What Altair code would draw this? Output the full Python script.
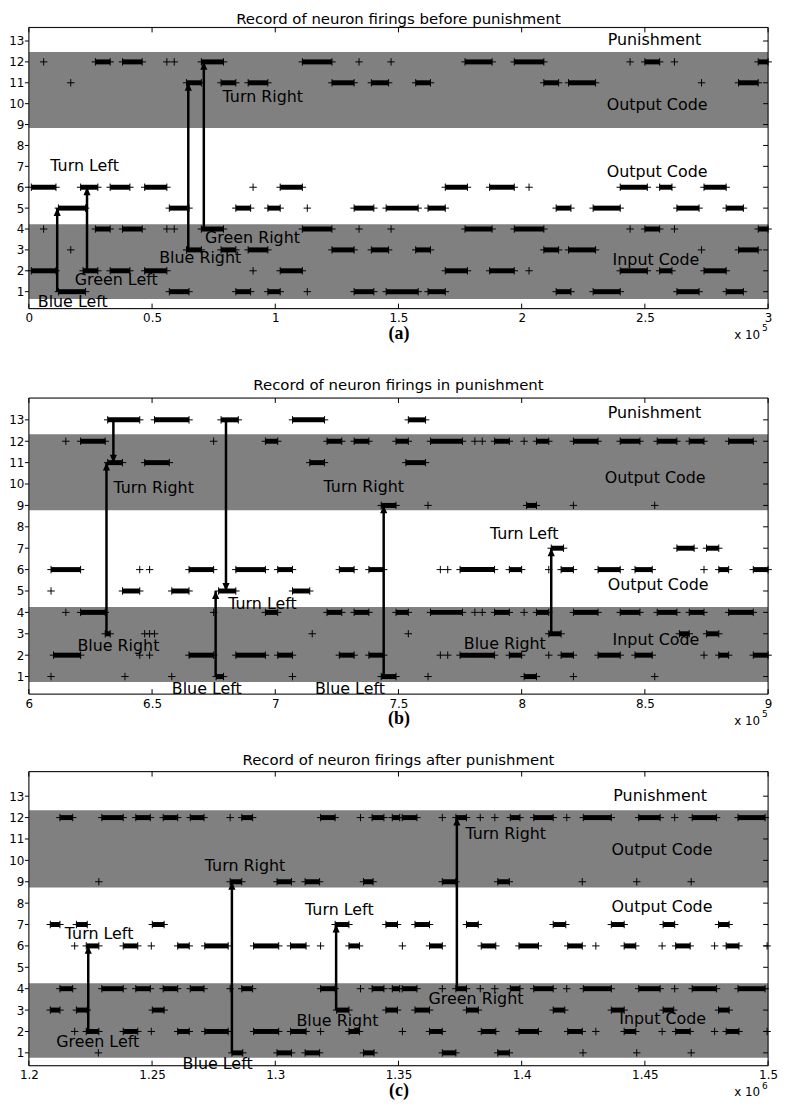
import altair as alt
import pandas as pd

FONT = "DejaVu Sans"
W = 744
H_A, H_B, H_C = 283, 298, 296
BAND_COLOR = "#808080"
PLUS = "M-1,0L1,0M0,-1L0,1"
HEAD_UP = "M0,0L-0.45,1L0.45,1Z"
HEAD_DOWN = "M0,0L-0.45,-1L0.45,-1Z"
Y_TICKS = list(range(1, 14))

# ---------------- Panel (a): before punishment (x in units of 1e5) ----------------
A_TITLE = "Record of neuron firings before punishment"
A_X_DOMAIN = [0, 3]
A_Y_DOMAIN = [0.19, 13.65]
A_X_TICKS = [0, 0.5, 1, 1.5, 2, 2.5, 3]
A_BANDS = [(0.65, 4.23), (8.84, 12.47)]
A_CLUSTERS = {
    12: [(0.27, 0.33), (0.38, 0.46), (0.70, 0.79), (1.11, 1.23), (1.77, 1.88), (1.97, 2.09), (2.50, 2.56), (2.96, 3.00)],
    11: [(0.64, 0.70), (0.78, 0.84), (0.89, 0.97), (1.23, 1.32), (1.39, 1.46), (1.57, 1.63), (2.09, 2.15), (2.19, 2.30), (2.88, 2.96)],
    6: [(0.01, 0.11), (0.21, 0.28), (0.33, 0.41), (0.47, 0.56), (1.02, 1.11), (1.69, 1.78), (1.87, 1.97), (2.40, 2.51), (2.56, 2.61), (2.74, 2.83)],
    5: [(0.12, 0.23), (0.57, 0.65), (0.84, 0.90), (0.97, 1.02), (1.32, 1.40), (1.45, 1.58), (1.62, 1.69), (2.14, 2.20), (2.29, 2.40), (2.63, 2.72), (2.83, 2.90)],
    4: [(0.27, 0.33), (0.38, 0.46), (0.70, 0.79), (1.11, 1.23), (1.77, 1.88), (1.97, 2.09), (2.50, 2.56), (2.96, 3.00)],
    3: [(0.64, 0.70), (0.78, 0.84), (0.89, 0.97), (1.23, 1.32), (1.39, 1.46), (1.57, 1.63), (2.09, 2.15), (2.19, 2.30), (2.88, 2.96)],
    2: [(0.01, 0.11), (0.22, 0.28), (0.33, 0.41), (0.47, 0.56), (1.02, 1.11), (1.69, 1.78), (1.87, 1.97), (2.40, 2.51), (2.56, 2.61), (2.74, 2.83)],
    1: [(0.12, 0.23), (0.57, 0.65), (0.84, 0.90), (0.97, 1.02), (1.32, 1.40), (1.45, 1.58), (1.62, 1.69), (2.14, 2.20), (2.29, 2.40), (2.63, 2.72), (2.83, 2.90)],
}
A_SPIKES = {
    12: [0.06, 0.56, 0.59, 1.34, 1.47, 2.44, 2.62],
    11: [0.17, 2.73],
    6: [0.91, 2.03],
    5: [1.13],
    4: [0.06, 0.56, 0.59, 1.34, 1.47, 2.44, 2.62],
    3: [0.17, 2.73],
    2: [0.91, 2.03],
    1: [1.13],
}
A_ARROWS = [(0.115, 1, 5), (0.236, 2, 6), (0.647, 3, 11), (0.71, 4, 12)]
A_LABELS = [
    ("Blue Left", 0.036, 0.52), ("Green Left", 0.186, 1.57), ("Blue Right", 0.529, 2.61),
    ("Green Right", 0.715, 3.56), ("Turn Left", 0.087, 7.03), ("Turn Right", 0.786, 10.30),
    ("Punishment", 2.349, 13.06), ("Output Code", 2.345, 9.92), ("Output Code", 2.345, 6.74),
    ("Input Code", 2.369, 2.52),
]

# ---------------- Panel (b): in punishment (x in units of 1e5) ----------------
B_TITLE = "Record of neuron firings in punishment"
B_X_DOMAIN = [6, 9]
B_Y_DOMAIN = [0.18, 14.02]
B_X_TICKS = [6, 6.5, 7, 7.5, 8, 8.5, 9]
B_BANDS = [(0.75, 4.25), (8.77, 12.33)]
B_CLUSTERS = {
    13: [(6.32, 6.45), (6.51, 6.65), (6.78, 6.85), (7.07, 7.20), (7.54, 7.61)],
    12: [(6.21, 6.31), (6.96, 7.01), (7.21, 7.27), (7.32, 7.38), (7.49, 7.54), (7.63, 7.76), (7.89, 7.95), (8.06, 8.11), (8.21, 8.31), (8.40, 8.48), (8.55, 8.63), (8.68, 8.74), (8.84, 8.94)],
    11: [(6.32, 6.38), (6.47, 6.57), (7.14, 7.20), (7.53, 7.61)],
    9: [(7.43, 7.49), (8.02, 8.06)],
    7: [(8.12, 8.17), (8.63, 8.70), (8.75, 8.80)],
    6: [(6.09, 6.21), (6.65, 6.75), (6.84, 6.96), (7.01, 7.07), (7.26, 7.32), (7.38, 7.44), (7.75, 7.89), (7.95, 8.00), (8.16, 8.21), (8.31, 8.40), (8.46, 8.53), (8.80, 8.84), (8.94, 9.00)],
    5: [(6.38, 6.45), (6.58, 6.65), (6.77, 6.84), (7.07, 7.14)],
    4: [(6.21, 6.31), (6.96, 7.01), (7.21, 7.27), (7.32, 7.38), (7.49, 7.54), (7.63, 7.76), (7.89, 7.95), (8.06, 8.11), (8.21, 8.31), (8.40, 8.48), (8.55, 8.63), (8.68, 8.74), (8.84, 8.94)],
    3: [(6.31, 6.33), (8.11, 8.16), (8.64, 8.68), (8.75, 8.80)],
    2: [(6.10, 6.21), (6.65, 6.75), (6.84, 6.96), (7.01, 7.07), (7.26, 7.32), (7.38, 7.44), (7.75, 7.89), (7.95, 8.00), (8.16, 8.21), (8.31, 8.40), (8.46, 8.53), (8.80, 8.84), (8.94, 9.00)],
    1: [(6.76, 6.79), (7.43, 7.49), (8.01, 8.06)],
}
B_SPIKES = {
    12: [6.15, 6.75, 7.81, 7.84, 8.01],
    9: [7.62, 8.21, 8.54],
    6: [6.45, 6.49, 7.67, 7.70, 8.11, 8.74],
    5: [6.09],
    4: [6.15, 6.75, 7.81, 7.84, 8.01],
    3: [6.47, 6.49, 6.51, 7.15, 7.54],
    2: [6.45, 6.49, 7.67, 7.70, 8.11, 8.74],
    1: [6.09, 6.39, 6.58, 7.07, 7.62, 8.21, 8.54],
}
B_ARROWS = [(6.315, 3, 11), (6.343, 13, 11), (6.758, 1, 5), (6.80, 13, 5), (7.44, 1, 9), (8.12, 3, 7)]
B_LABELS = [
    ("Turn Right", 6.343, 9.79), ("Turn Right", 7.196, 9.84), ("Output Code", 8.337, 10.30),
    ("Punishment", 8.349, 13.33), ("Turn Left", 7.871, 7.65), ("Output Code", 8.349, 5.28),
    ("Turn Left", 6.809, 4.40), ("Blue Right", 6.197, 2.44), ("Blue Left", 6.580, 0.40),
    ("Blue Left", 7.161, 0.40), ("Blue Right", 7.765, 2.53), ("Input Code", 8.369, 2.72),
]

# ---------------- Panel (c): after punishment (x in units of 1e6) ----------------
C_TITLE = "Record of neuron firings after punishment"
C_X_DOMAIN = [1.2, 1.5]
C_Y_DOMAIN = [0.40, 14.15]
C_X_TICKS = [1.2, 1.25, 1.3, 1.35, 1.4, 1.45, 1.5]
C_BANDS = [(0.77, 4.25), (8.73, 12.34)]
C_CLUSTERS = {
    12: [(1.2126, 1.2178), (1.2296, 1.2383), (1.2434, 1.2493), (1.2545, 1.2604), (1.2655, 1.2711), (1.2864, 1.2908), (1.3184, 1.3243), (1.3393, 1.3441), (1.3475, 1.3505), (1.3515, 1.3575), (1.3733, 1.3776), (1.3954, 1.3993), (1.4049, 1.4128), (1.4250, 1.4364), (1.4475, 1.4562), (1.4692, 1.4791), (1.4878, 1.4988)],
    9: [(1.2817, 1.2864), (1.3007, 1.3066), (1.3121, 1.3180), (1.3358, 1.3397), (1.3678, 1.3733), (1.3903, 1.3950)],
    7: [(1.2087, 1.2126), (1.2193, 1.2237), (1.2501, 1.2549), (1.3243, 1.3299), (1.3449, 1.3496), (1.3567, 1.3626), (1.3776, 1.3824), (1.4128, 1.4179), (1.4364, 1.4416), (1.4574, 1.4621), (1.4799, 1.4842)],
    6: [(1.2233, 1.2284), (1.2383, 1.2442), (1.2604, 1.2651), (1.2714, 1.2809), (1.2912, 1.3014), (1.3062, 1.3125), (1.3299, 1.3342), (1.3626, 1.3678), (1.3836, 1.3895), (1.3989, 1.4068), (1.4187, 1.4246), (1.4416, 1.4463), (1.4625, 1.4684), (1.4830, 1.4882)],
    4: [(1.2126, 1.2178), (1.2296, 1.2383), (1.2434, 1.2493), (1.2545, 1.2604), (1.2655, 1.2711), (1.2864, 1.2908), (1.3184, 1.3243), (1.3393, 1.3441), (1.3475, 1.3505), (1.3515, 1.3575), (1.3733, 1.3776), (1.3954, 1.3993), (1.4049, 1.4128), (1.4250, 1.4364), (1.4475, 1.4562), (1.4692, 1.4791), (1.4878, 1.4988)],
    3: [(1.2087, 1.2126), (1.2193, 1.2237), (1.2501, 1.2549), (1.3249, 1.3299), (1.3449, 1.3496), (1.3567, 1.3626), (1.3776, 1.3824), (1.4128, 1.4175), (1.4364, 1.4416), (1.4574, 1.4617), (1.4799, 1.4842)],
    2: [(1.2233, 1.2284), (1.2383, 1.2442), (1.2604, 1.2651), (1.2714, 1.2809), (1.2912, 1.3014), (1.3062, 1.3125), (1.3299, 1.3342), (1.3626, 1.3678), (1.3836, 1.3895), (1.3989, 1.4068), (1.4187, 1.4246), (1.4416, 1.4463), (1.4625, 1.4684), (1.4830, 1.4882)],
    1: [(1.2824, 1.2868), (1.3007, 1.3066), (1.3121, 1.3180), (1.3358, 1.3401), (1.3678, 1.3733), (1.3903, 1.3950)],
}
C_SPIKES = {
    12: [1.2817, 1.3346, 1.3678, 1.3832, 1.3891, 1.4183, 1.4621],
    9: [1.2284, 1.4246, 1.4467, 1.4688],
    6: [1.2186, 1.2497, 1.3184, 1.3516, 1.4301, 1.4570, 1.4783, 1.4996],
    4: [1.2817, 1.3346, 1.3678, 1.3832, 1.3891, 1.4183, 1.4621],
    2: [1.2186, 1.2497, 1.3184, 1.3516, 1.4301, 1.4570, 1.4783, 1.4996],
    1: [1.2282, 1.4249, 1.4467, 1.4688],
}
C_ARROWS = [(1.2241, 2, 6), (1.2824, 1, 9), (1.3247, 3, 7), (1.3737, 4, 12)]
C_LABELS = [
    ("Turn Right", 1.2714, 9.72), ("Turn Left", 1.3121, 7.67), ("Turn Left", 1.2146, 6.56),
    ("Turn Right", 1.3772, 11.21), ("Output Code", 1.4365, 10.47), ("Punishment", 1.4372, 13.02),
    ("Output Code", 1.4365, 7.81), ("Green Left", 1.2111, 1.49), ("Blue Left", 1.2624, 0.47),
    ("Blue Right", 1.3086, 2.51), ("Green Right", 1.3622, 3.53), ("Input Code", 1.4396, 2.56),
]


def panel(title, title_dy, xdom, ydom, xticks, xfmt, bands, clusters, spikes, arrows, labels,
          height, letter, expo):
    xs = alt.Scale(domain=xdom, nice=False, zero=False)
    ys = alt.Scale(domain=ydom, nice=False, zero=False)
    xax = alt.Axis(values=xticks, format=xfmt, ticks=False, domain=False, grid=False,
                   labelFont=FONT, labelFontSize=12, labelColor="#000", labelPadding=4,
                   labelFlush=False, labelOverlap=False,
                   title=letter, titleFont="Liberation Serif", titleFontWeight="bold",
                   titleFontSize=18, titleColor="#000", titlePadding=1)
    yax = alt.Axis(values=Y_TICKS, format="d", ticks=False, domain=False, grid=False,
                   labelFont=FONT, labelFontSize=12, labelColor="#000", labelPadding=5,
                   labelFlush=False, labelOverlap=False, title=None)

    def X(f):
        return alt.X(f, type="quantitative", scale=xs, axis=xax)

    def Y(f):
        return alt.Y(f, type="quantitative", scale=ys, axis=yax)

    band_df = pd.DataFrame(bands, columns=["lo", "hi"])
    cl_df = pd.DataFrame([{"x0": a, "x1": b, "row": r} for r, lst in clusters.items() for a, b in lst])
    pts = [{"x": a, "row": r} for r, lst in clusters.items() for a, b in lst]
    pts += [{"x": b, "row": r} for r, lst in clusters.items() for a, b in lst]
    pts += [{"x": v, "row": r} for r, lst in spikes.items() for v in lst]
    pt_df = pd.DataFrame(pts)
    ar_df = pd.DataFrame([{"x": x, "y0": a, "y1": b, "dir": "up" if b > a else "down"}
                          for x, a, b in arrows])
    lb_df = pd.DataFrame(labels, columns=["text", "x", "y"])
    xt_df = pd.DataFrame({"x": xticks})
    yt_df = pd.DataFrame({"y": Y_TICKS})
    one = pd.DataFrame({"k": [0]})

    band_layer = alt.Chart(band_df).mark_rect(color=BAND_COLOR).encode(
        x=alt.value(0), x2=alt.value(W), y=Y("lo"), y2="hi")
    cl_layer = alt.Chart(cl_df).mark_rule(color="#000", strokeWidth=5, strokeCap="butt").encode(
        x=X("x0"), x2="x1", y=Y("row"))
    pt_layer = alt.Chart(pt_df).mark_point(shape=PLUS, filled=False, color="#000",
                                           strokeWidth=1, size=56, opacity=1).encode(
        x=X("x"), y=Y("row"))
    shaft = alt.Chart(ar_df).mark_rule(color="#000", strokeWidth=2.5).encode(
        x=X("x"), y=Y("y0"), y2="y1")
    head = alt.Chart(ar_df).mark_point(filled=True, color="#000", size=256, opacity=1,
                                       strokeWidth=0).encode(
        x=X("x"), y=Y("y1"),
        shape=alt.Shape("dir:N", scale=alt.Scale(domain=["up", "down"], range=[HEAD_UP, HEAD_DOWN]),
                        legend=None))
    text_layer = alt.Chart(lb_df).mark_text(align="left", baseline="middle", font=FONT,
                                            fontSize=16, color="#000").encode(
        x=X("x"), y=Y("y"), text="text:N")
    tick_bot = alt.Chart(xt_df).mark_rule(color="#000", strokeWidth=1).encode(
        x=X("x"), y=alt.value(height), y2=alt.value(height - 5))
    tick_top = alt.Chart(xt_df).mark_rule(color="#000", strokeWidth=1).encode(
        x=X("x"), y=alt.value(0), y2=alt.value(5))
    tick_left = alt.Chart(yt_df).mark_rule(color="#000", strokeWidth=1).encode(
        y=Y("y"), x=alt.value(-4), x2=alt.value(0))
    tick_right = alt.Chart(yt_df).mark_rule(color="#000", strokeWidth=1).encode(
        y=Y("y"), x=alt.value(W), x2=alt.value(W - 5))
    frame = alt.Chart(one).mark_rect(fill=None, stroke="#000", strokeWidth=1, filled=False).encode(
        x=alt.value(0), x2=alt.value(W), y=alt.value(0), y2=alt.value(height))
    title_t = alt.Chart(one).mark_text(align="center", baseline="middle", font=FONT, fontSize=15,
                                       color="#000", text=title).encode(
        x=alt.value(W / 2), y=alt.value(title_dy))
    mult = alt.Chart(one).mark_text(align="right", baseline="middle", font=FONT, fontSize=12,
                                    color="#000", text="x 10").encode(
        x=alt.value(W - 8), y=alt.value(height + 27))
    expo_t = alt.Chart(one).mark_text(align="left", baseline="middle", font=FONT, fontSize=9,
                                      color="#000", text=expo).encode(
        x=alt.value(W - 6), y=alt.value(height + 20))

    return alt.layer(band_layer, cl_layer, pt_layer, shaft, head, text_layer,
                     tick_bot, tick_top, tick_left, tick_right, frame, title_t, mult, expo_t
                     ).properties(width=W, height=height)


pa = panel(A_TITLE, -8, A_X_DOMAIN, A_Y_DOMAIN, A_X_TICKS, ".1~f", A_BANDS, A_CLUSTERS, A_SPIKES,
           A_ARROWS, A_LABELS, H_A, "(a)", "5")
pb = panel(B_TITLE, -13, B_X_DOMAIN, B_Y_DOMAIN, B_X_TICKS, ".1~f", B_BANDS, B_CLUSTERS, B_SPIKES,
           B_ARROWS, B_LABELS, H_B, "(b)", "5")
pc = panel(C_TITLE, -12, C_X_DOMAIN, C_Y_DOMAIN, C_X_TICKS, ".2~f", C_BANDS, C_CLUSTERS, C_SPIKES,
           C_ARROWS, C_LABELS, H_C, "(c)", "6")

inner = alt.vconcat(pb, pc, spacing=78, bounds="flush")
chart = alt.vconcat(pa, inner, spacing=90, bounds="flush").properties(
    padding={"left": 0, "top": 0, "right": 0, "bottom": 0}
).configure_view(stroke=None).configure(background="#ffffff")

chart.save("out.html", embed_options={"renderer": "svg", "actions": False})
